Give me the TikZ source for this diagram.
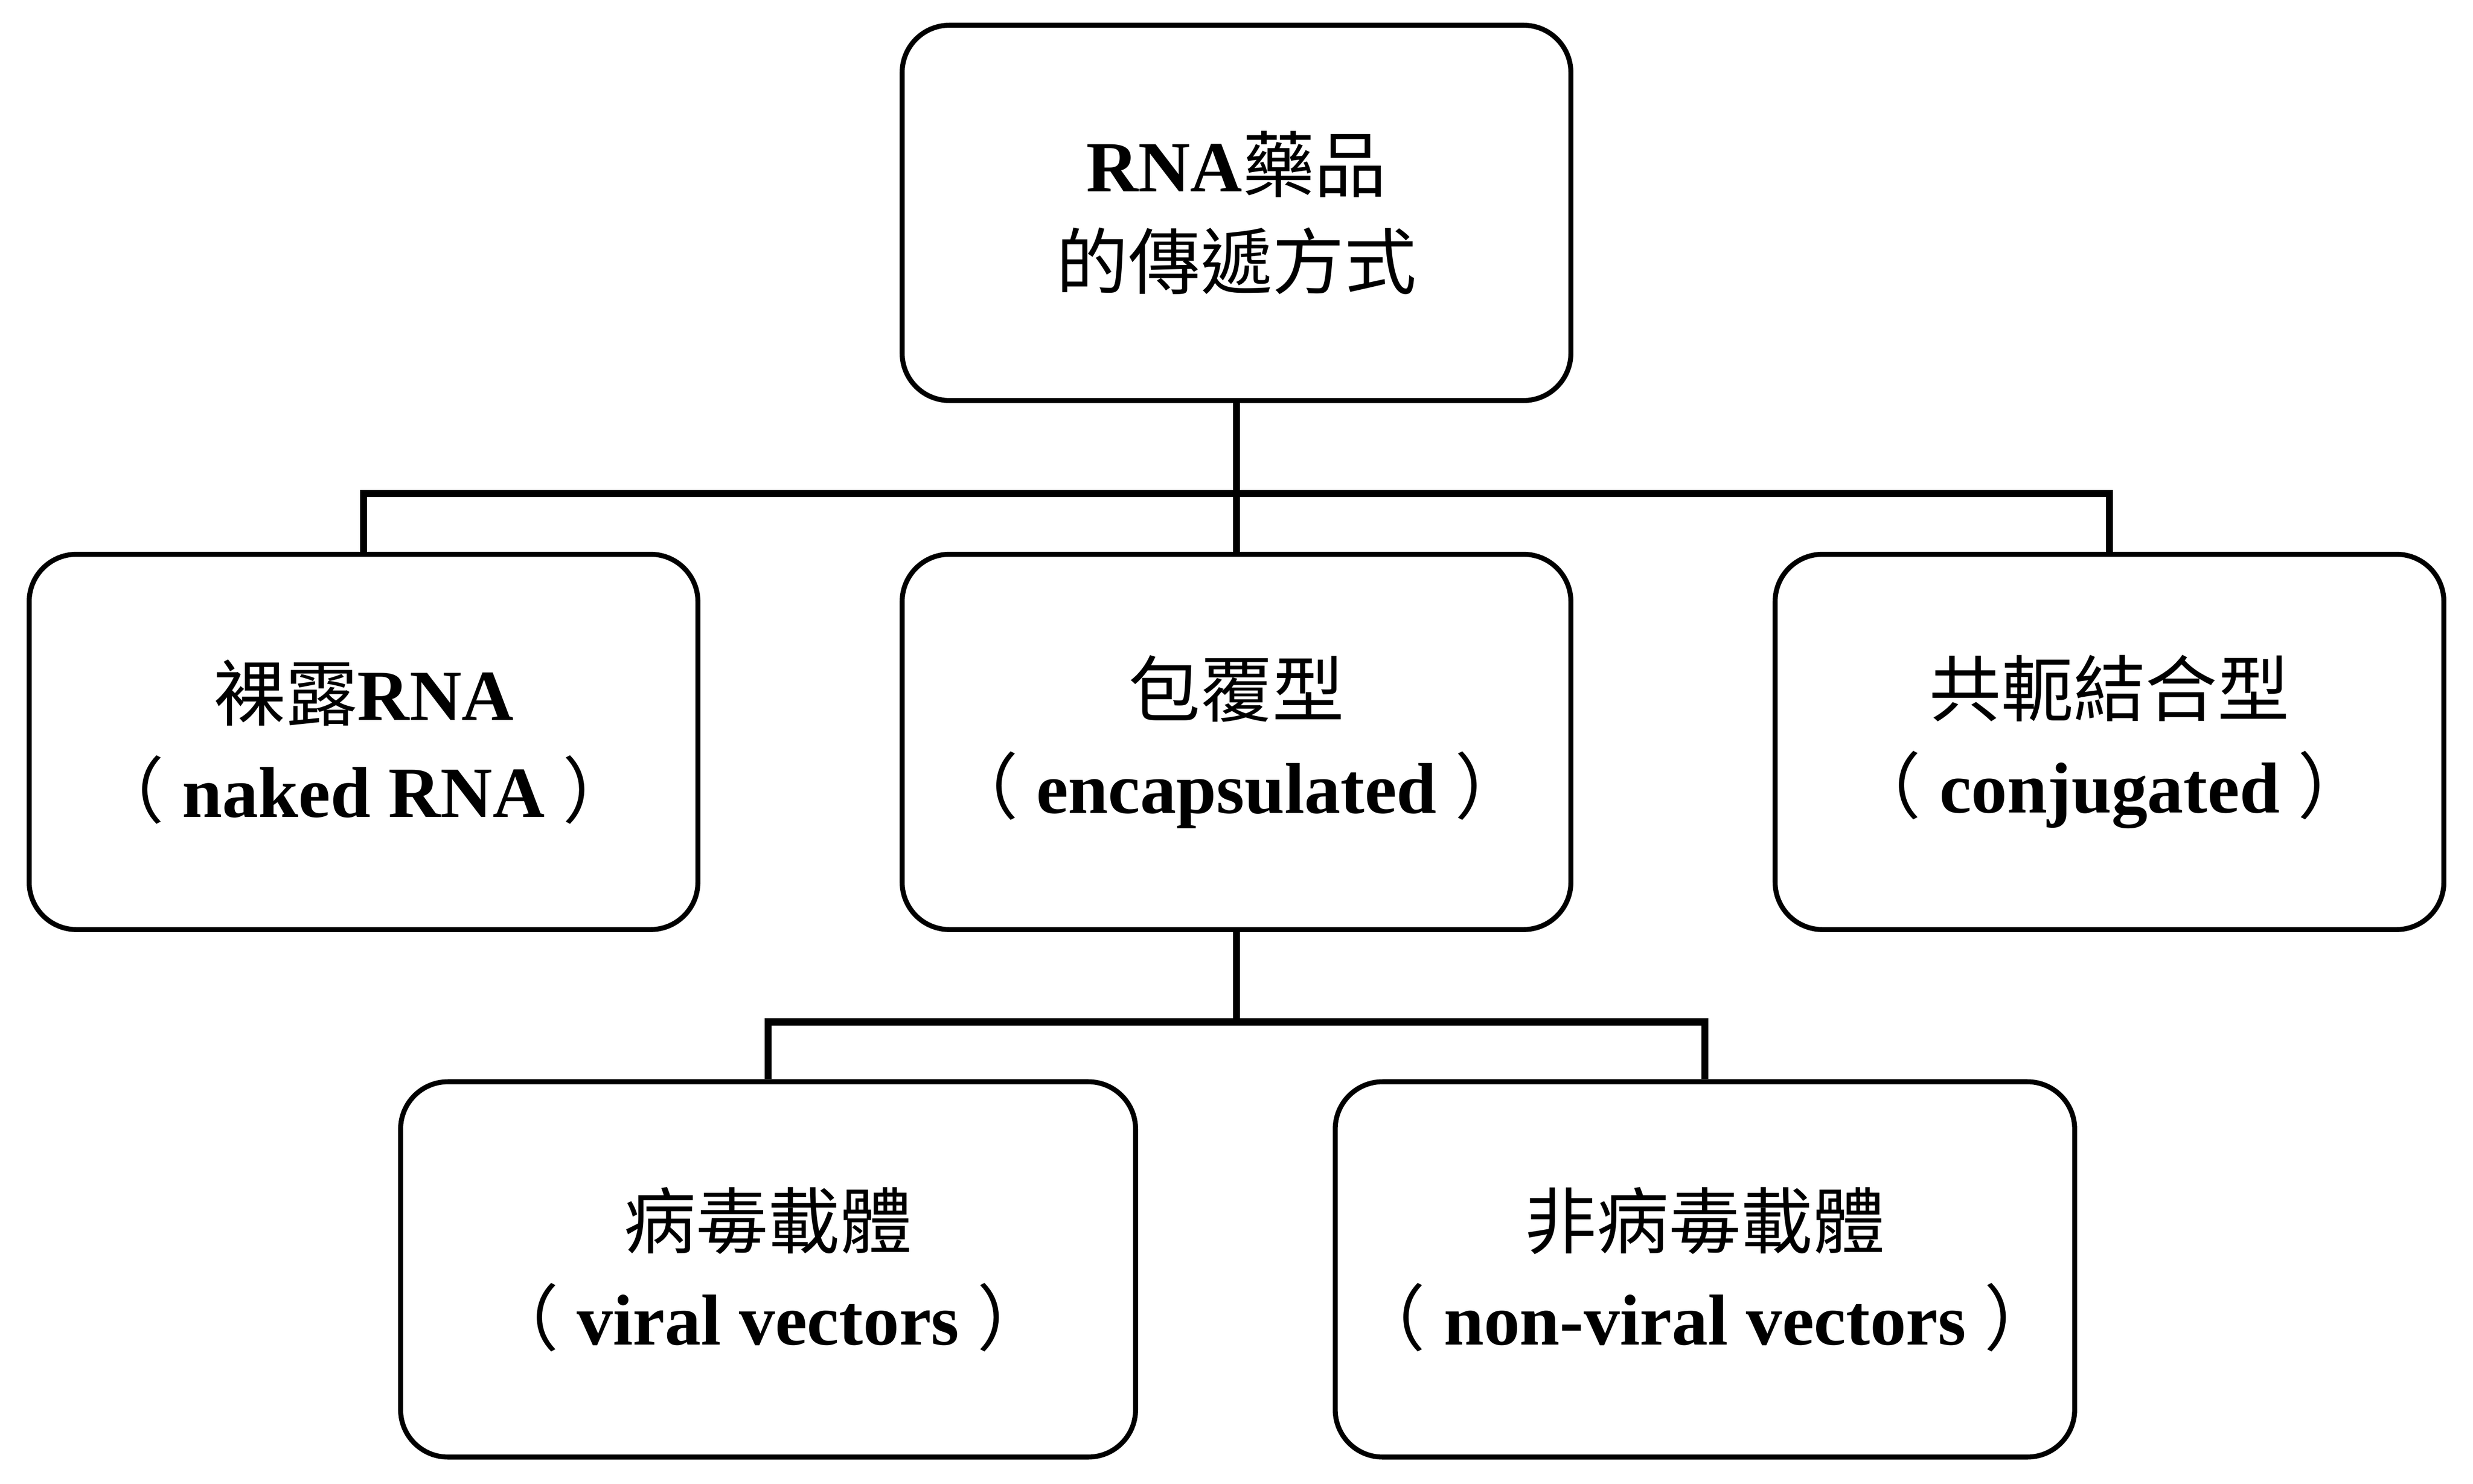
\documentclass[tikz,border=0pt]{standalone}
\usepackage{fontspec}
\setmainfont{Liberation Serif}
\newfontfamily\cjk{Noto Sans CJK TC}
\usetikzlibrary{positioning}
\tikzset{
  catbox/.style={draw, line width=0.9pt, rounded corners=0.3cm, minimum width=4.24cm,
    minimum height=2.38cm, align=center, font=\fontsize{13}{17.5}\selectfont\bfseries},
  subbox/.style={catbox, minimum width=4.66cm},
  bus/.style={line width=1.3pt}
}
\begin{document}
\begin{tikzpicture}
\useasboundingbox (0,0) rectangle (15.68,-9.41);

%// top
\node[catbox] (root) at (7.84,-1.35) {RNA{\cjk\mdseries 藥品}\\{\cjk\mdseries 的傳遞方式}};

%// second row
\node[catbox] (naked) at (2.305,-4.705) {{\cjk\mdseries 裸露}RNA\\{\cjk\mdseries （} naked RNA {\cjk\mdseries ）}};
\node[catbox] (encap) at (7.84,-4.705) {{\cjk\mdseries 包覆型}\\{\cjk\mdseries （} encapsulated {\cjk\mdseries ）}};
\node[catbox] (conj) at (13.375,-4.705) {{\cjk\mdseries 共軛結合型}\\{\cjk\mdseries （} conjugated {\cjk\mdseries ）}};

%// third row
\node[subbox] (viral) at (4.87,-8.05) {{\cjk\mdseries 病毒載體}\\{\cjk\mdseries （} viral vectors {\cjk\mdseries ）}};
\node[subbox] (nonviral) at (10.81,-8.05) {{\cjk\mdseries 非病毒載體}\\{\cjk\mdseries （} non-viral vectors {\cjk\mdseries ）}};

%// connectors
\coordinate (b1) at (7.84,-3.13);
\draw[bus] (root.south) -- (b1);
\draw[bus] (naked.north) |- (b1) -| (conj.north);
\draw[bus] (b1) -- (encap.north);

\coordinate (b2) at (7.84,-6.48);
\draw[bus] (encap.south) -- (b2);
\draw[bus] (viral.north) |- (b2) -| (nonviral.north);
\end{tikzpicture}
\end{document}
